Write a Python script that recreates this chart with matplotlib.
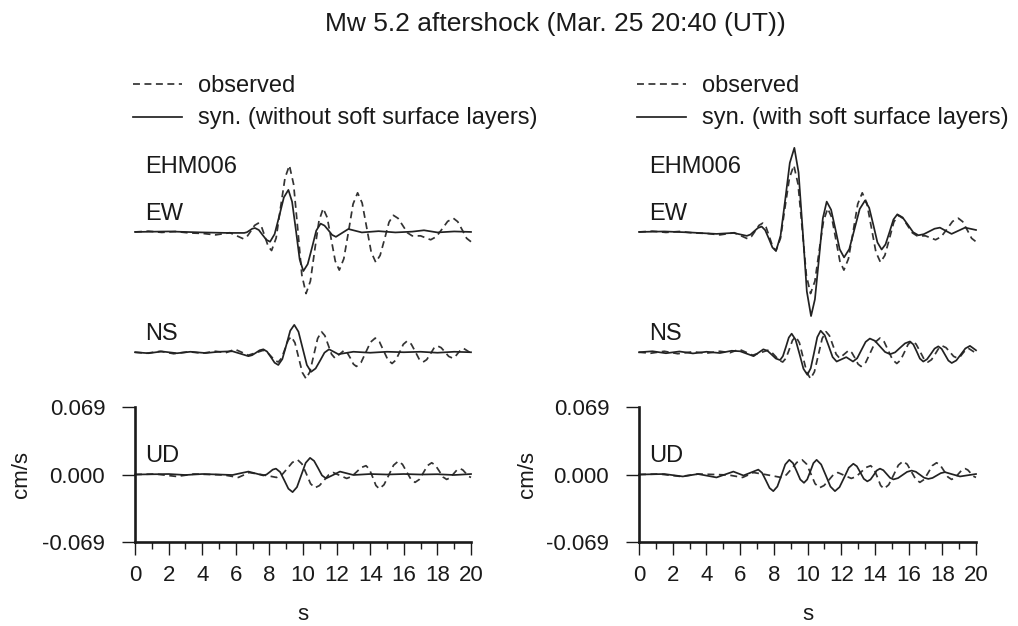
import matplotlib
matplotlib.use('Agg')
import matplotlib.pyplot as plt
from matplotlib.lines import Line2D

plt.rcParams['font.family'] = ['Liberation Sans', 'DejaVu Sans']

# ---- data: velocity traces (cm/s), station EHM006 ----
# observed records (same in both panels)
obs_ew_t = [0, 0.8, 1.6, 2.4, 3.2, 4.0, 4.8, 5.65, 6.45, 6.67, 6.90, 7.12, 7.34, 7.54, 7.74, 7.93,
            8.13, 8.40, 8.66, 8.93, 9.19, 9.44, 9.69, 9.93, 10.18, 10.44, 10.69, 10.95, 11.2, 11.44,
            11.68, 11.92, 12.16, 12.43, 12.71, 12.98, 13.25, 13.52, 13.79, 14.06, 14.33, 14.59, 14.86,
            15.12, 15.38, 15.66, 15.94, 16.22, 16.5, 17.0, 17.6, 17.94, 18.28, 18.61, 18.95, 19.21,
            19.48, 19.74, 20.0]
obs_ew_v = [0, 0.0008, -0.0005, 0.0005, -0.001, -0.0015, -0.003, -0.0008, -0.007, -0.0047, 0.001,
            0.0067, 0.009, 0.0049, -0.005, -0.0149, -0.019, -0.0063, 0.0245, 0.0553, 0.068, 0.0488,
            0.0025, -0.0439, -0.063, -0.0503, -0.0195, 0.0113, 0.024, 0.0148, -0.0075, -0.0298, -0.039,
            -0.0274, 0.0005, 0.0285, 0.040, 0.0296, 0.0045, -0.0206, -0.031, -0.024, -0.007, 0.010,
            0.017, 0.0139, 0.0065, -0.0009, -0.004, -0.004, -0.008, -0.0048, 0.003, 0.0108, 0.014,
            0.0105, 0.002, -0.0065, -0.010]

obs_ns_t = [0, 0.7, 1.5, 2.3, 3.2, 4.0, 4.8, 5.4, 5.95, 6.35, 6.75, 7.2, 7.64, 7.86, 8.09, 8.31, 8.53,
            8.72, 8.92, 9.11, 9.3, 9.52, 9.74, 9.96, 10.18, 10.41, 10.64, 10.87, 11.1, 11.3, 11.5, 11.7,
            11.9, 12.18, 12.45, 12.63, 12.82, 13.0, 13.18, 13.46, 13.74, 14.02, 14.3, 14.55, 14.8,
            15.05, 15.3, 15.52, 15.75, 15.97, 16.2, 16.44, 16.68, 16.91, 17.15, 17.36, 17.58, 17.79,
            18.0, 18.22, 18.45, 18.67, 18.9, 19.06, 19.22, 19.39, 19.55, 19.78, 20]
obs_ns_v = [0, -0.001, 0.001, -0.0015, 0.0005, -0.001, 0.001, -0.0005, 0.003, 0, -0.003, -0.0005,
            0.002, 0.0002, -0.004, -0.0082, -0.010, -0.0062, 0.003, 0.0122, 0.016, 0.0097, -0.0055,
            -0.0207, -0.027, -0.020, -0.003, 0.014, 0.021, 0.017, 0.0075, -0.002, -0.006, -0.002,
            0.002, -0.0004, -0.006, -0.0121, -0.0145, -0.0103, 0, 0.0103, 0.0145, 0.0107, 0.0015,
            -0.0077, -0.0115, -0.0081, 0, 0.0081, 0.0115, 0.0084, 0.0008, -0.0069, -0.010, -0.0076,
            -0.0018, 0.0041, 0.0065, 0.0047, 0.0003, -0.0042, -0.006, -0.0045, -0.001, 0.0025, 0.004,
            0.0015, -0.001]

obs_ud_t = [0, 1.2, 2.48, 3.5, 4.5, 5.3, 6.15, 6.8, 7.5, 7.97, 8.43, 8.74, 9.06, 9.37, 9.68, 9.94,
            10.2, 10.45, 10.71, 10.98, 11.26, 11.53, 11.8, 12.2, 12.6, 12.89, 13.18, 13.46, 13.75,
            13.95, 14.15, 14.34, 14.54, 14.82, 15.11, 15.39, 15.67, 15.92, 16.17, 16.42, 16.67, 16.92,
            17.17, 17.41, 17.66, 17.88, 18.11, 18.33, 18.55, 18.75, 18.95, 19.15, 19.35, 19.51, 19.68,
            19.84, 20]
obs_ud_v = [0, 0.0005, -0.002, 0.0005, 0, -0.0005, -0.003, 0.002, 0, -0.0015, -0.003, -0.0004, 0.006,
            0.0124, 0.015, 0.0108, 0.0007, -0.0094, -0.0136, -0.0113, -0.0058, -0.0003, 0.002, -0.001,
            -0.004, -0.0021, 0.0025, 0.0071, 0.009, 0.0055, -0.0028, -0.0112, -0.0146, -0.0105,
            -0.0005, 0.0095, 0.0136, 0.0104, 0.0028, -0.0048, -0.008, -0.0051, 0.002, 0.0091, 0.012,
            0.0095, 0.0035, -0.0025, -0.005, -0.0034, 0.0005, 0.0044, 0.006, 0.0047, 0.0015, -0.0017,
            -0.003]

# synthetics without soft surface layers (left)
syn_a_ew_t = [0, 2, 4, 5.5, 6.5, 6.66, 6.82, 6.98, 7.14, 7.37, 7.59, 7.82, 8.04, 8.31, 8.59, 8.86,
              9.13, 9.35, 9.58, 9.80, 10.02, 10.28, 10.54, 10.79, 11.05, 11.28, 11.51, 11.73, 11.96,
              12.33, 12.7, 13.5, 14.5, 15.5, 16.5, 17.2, 18, 19, 20]
syn_a_ew_v = [0, 0.0005, -0.0005, -0.001, -0.001, -0.0003, 0.0015, 0.0033, 0.004, 0.002, -0.003,
              -0.008, -0.010, -0.0022, 0.0165, 0.0353, 0.043, 0.0309, 0.0015, -0.0279, -0.040,
              -0.0329, -0.0158, 0.0014, 0.0085, 0.0065, 0.0018, -0.003, -0.005, -0.001, 0.003,
              -0.0005, 0.0008, -0.0005, 0.0003, 0.0017, -0.0005, 0.0005, 0]

syn_a_ns_t = [0, 0.8, 1.6, 2.5, 3.3, 4.2, 5.0, 5.8, 6.28, 6.75, 6.97, 7.2, 7.42, 7.64, 7.86, 8.09,
              8.31, 8.53, 8.77, 9.01, 9.24, 9.48, 9.73, 9.98, 10.23, 10.48, 10.75, 11.02, 11.28,
              11.55, 11.83, 12.1, 13, 14, 15, 16, 17, 18, 19, 20]
syn_a_ns_v = [0, -0.001, 0.0008, -0.001, 0.0005, -0.0008, 0.0005, 0.001, -0.0015, -0.004, -0.003,
              -0.0005, 0.002, 0.003, 0.0007, -0.005, -0.0107, -0.013, -0.007, 0.0075, 0.022, 0.028,
              0.021, 0.004, -0.013, -0.020, -0.0166, -0.0085, -0.0004, 0.003, 0.0005, -0.002, 0.0005,
              -0.0005, 0.0005, 0, 0.0005, -0.0005, 0.0005, 0]

syn_a_ud_t = [0, 2, 3, 4, 5, 5.8, 6.28, 6.75, 7.2, 7.64, 7.83, 8.02, 8.2, 8.39, 8.64, 8.89, 9.13,
              9.38, 9.64, 9.9, 10.16, 10.42, 10.66, 10.9, 11.13, 11.37, 11.79, 12.2, 13, 14, 15, 16,
              17, 18, 19, 20]
syn_a_ud_v = [0, 0.0005, -0.0005, 0.0005, 0, -0.0005, 0.0013, 0.003, 0.001, -0.001, 0, 0.0025, 0.005,
              0.006, 0.0025, -0.006, -0.0145, -0.018, -0.0129, -0.0005, 0.0119, 0.017, 0.0139, 0.0065,
              -0.0009, -0.004, -0.0005, 0.003, -0.0005, 0.0005, 0, 0.0005, 0, 0.0003, -0.0005, 0.0005]

# synthetics with soft surface layers (right)
syn_b_ew_t = [0, 1.5, 3, 4.6, 5.6, 6.4, 6.62, 6.84, 7.06, 7.28, 7.49, 7.71, 7.92, 8.13, 8.4, 8.68,
              8.95, 9.22, 9.47, 9.72, 9.96, 10.21, 10.44, 10.68, 10.91, 11.14, 11.4, 11.66, 11.91,
              12.17, 12.48, 12.79, 13.1, 13.41, 13.66, 13.91, 14.15, 14.4, 14.63, 14.87, 15.1, 15.33,
              15.64, 15.96, 16.27, 16.58, 16.9, 17.22, 17.54, 17.86, 18.2, 18.55, 18.95, 19.35,
              19.68, 20]
syn_b_ew_v = [0, 0.0005, -0.0005, -0.002, -0.001, -0.004, -0.0026, 0.0008, 0.0041, 0.0055, 0.0018,
              -0.007, -0.0159, -0.0195, -0.004, 0.0333, 0.0706, 0.086, 0.0608, 0, -0.0608, -0.086,
              -0.0689, -0.0275, 0.0139, 0.031, 0.0227, 0.0025, -0.0177, -0.026, -0.0175, 0.003,
              0.0235, 0.032, 0.0247, 0.007, -0.0107, -0.018, -0.0127, 0, 0.0127, 0.018, 0.0149,
              0.0073, -0.0003, -0.0034, -0.0023, 0.0005, 0.0033, 0.0044, 0.0012, -0.002, 0.0012,
              0.0044, 0.0032, 0.002]

syn_b_ns_t = [0, 0.8, 1.6, 2.4, 3.2, 4.0, 4.8, 5.5, 6.0, 6.4, 6.8, 7.09, 7.38, 7.63, 7.88, 8.12,
              8.37, 8.54, 8.72, 8.89, 9.06, 9.29, 9.53, 9.76, 9.99, 10.19, 10.39, 10.58, 10.78,
              11.02, 11.26, 11.49, 11.73, 12.3, 12.7, 12.95, 13.2, 13.45, 13.7, 14.0, 14.3, 14.6,
              14.9, 15.2, 15.49, 15.79, 16.08, 16.28, 16.48, 16.67, 16.87, 17.09, 17.32, 17.54,
              17.76, 17.96, 18.16, 18.36, 18.56, 18.83, 19.1, 19.37, 19.64, 19.82, 20]
syn_b_ns_v = [0, 0.001, -0.001, 0.0008, -0.0012, 0.0005, -0.0008, 0.0015, 0.001, -0.0015, -0.004,
              -0.0005, 0.003, 0.0014, -0.0025, -0.0064, -0.008, -0.004, 0.0055, 0.015, 0.019, 0.0129,
              -0.002, -0.0169, -0.023, -0.0164, -0.0005, 0.0154, 0.022, 0.0174, 0.0063, -0.0049,
              -0.0095, -0.005, -0.0095, -0.0061, 0.0023, 0.0106, 0.014, 0.0117, 0.006, 0.0003, -0.002,
              -0.0001, 0.0045, 0.0091, 0.011, 0.008, 0.0008, -0.0065, -0.0095, -0.0072, -0.0018,
              0.0037, 0.006, 0.0035, -0.0025, -0.0085, -0.011, -0.0084, -0.0023, 0.0039, 0.0065,
              0.0043, 0.002]

syn_b_ud_t = [0, 1.5, 2.6, 3.5, 4.6, 5.1, 5.6, 5.9, 6.2, 6.64, 7.08, 7.3, 7.53, 7.75, 7.97, 8.21,
              8.45, 8.68, 8.92, 9.14, 9.36, 9.57, 9.79, 9.98, 10.17, 10.35, 10.54, 10.81, 11.09,
              11.36, 11.63, 11.9, 12.18, 12.45, 12.72, 12.93, 13.14, 13.34, 13.55, 13.74, 13.93,
              14.11, 14.3, 14.5, 14.7, 14.9, 15.1, 15.37, 15.64, 15.91, 16.18, 16.43, 16.68, 16.92,
              17.17, 17.42, 17.67, 17.91, 18.16, 18.6, 19.05, 19.5, 20]
syn_b_ud_v = [0, 0.0005, -0.002, 0.0005, -0.003, 0, 0.003, 0.001, -0.001, 0.002, 0.005, 0.0018,
              -0.006, -0.0138, -0.017, -0.0123, -0.001, 0.0103, 0.015, 0.0116, 0.0033, -0.0051,
              -0.0085, -0.0051, 0.0033, 0.0116, 0.015, 0.0103, -0.001, -0.0123, -0.017, -0.0129,
              -0.003, 0.0069, 0.011, 0.0084, 0.002, -0.0044, -0.007, -0.0051, -0.0005, 0.0041, 0.006,
              0.0044, 0.0005, -0.0034, -0.005, -0.0037, -0.0005, 0.0027, 0.004, 0.0028, -0.0003,
              -0.0033, -0.0045, -0.0035, -0.001, 0.0014, 0.0024, 0.0002, -0.002, -0.0008, 0.0005]

components = ['EW', 'NS', 'UD']
amp_max = 0.069
y_ticks = [-0.069, 0.0, 0.069]
y_ticklabels = ['-0.069', '0.000', '0.069']
x_major = list(range(0, 21, 2))
x_minor = list(range(0, 21, 1))

observed = {'EW': (obs_ew_t, obs_ew_v), 'NS': (obs_ns_t, obs_ns_v), 'UD': (obs_ud_t, obs_ud_v)}
syn_without = {'EW': (syn_a_ew_t, syn_a_ew_v), 'NS': (syn_a_ns_t, syn_a_ns_v),
               'UD': (syn_a_ud_t, syn_a_ud_v)}
syn_with = {'EW': (syn_b_ew_t, syn_b_ew_v), 'NS': (syn_b_ns_t, syn_b_ns_v),
            'UD': (syn_b_ud_t, syn_b_ud_v)}

# ---- layout (pixels of a 1018x626 canvas) ----
W, H = 1018, 626
offsets = {'EW': 0.248, 'NS': 0.125, 'UD': 0.0}
label_y = {'EW': 220, 'NS': 340, 'UD': 462}
ink = '#1a1a1a'
trace_lw = 1.25
dash = (0, (4, 2.6))


def fx(x):
    return x / W


def fy(y):
    return 1 - y / H


fig = plt.figure(figsize=(W / 100, H / 100), dpi=100)
fig.patch.set_facecolor('white')


def draw_panel(x0, x1, syn, syn_label, ylab_x, tick_pad):
    # Axes spans 0..20 s horizontally; vertically -0.069 at the bottom edge
    ax = fig.add_axes([fx(x0), fy(542), (x1 - x0) / W, (542 - 140) / H])
    ax.set_xlim(0, 20)
    ax.set_ylim(-amp_max, 0.342)
    ax.patch.set_alpha(0)

    for comp in components:
        off = offsets[comp]
        t, v = observed[comp]
        ax.plot(t, [a + off for a in v], color='#333333', lw=trace_lw, ls=dash, clip_on=False)
        t, v = syn[comp]
        ax.plot(t, [a + off for a in v], color='#222222', lw=trace_lw, clip_on=False)

    for side in ['top', 'right']:
        ax.spines[side].set_visible(False)
    ax.spines['left'].set_bounds(-amp_max, amp_max)
    for side in ['left', 'bottom']:
        ax.spines[side].set_linewidth(1.9)
        ax.spines[side].set_color(ink)

    ax.set_xticks(x_major)
    ax.set_xticks(x_minor, minor=True)
    ax.set_yticks(y_ticks)
    ax.set_yticklabels(y_ticklabels)
    ax.tick_params(axis='x', which='major', length=9.5, width=1, pad=7, labelsize=16, colors=ink)
    ax.tick_params(axis='x', which='minor', length=5, width=1, colors=ink)
    ax.tick_params(axis='y', length=9.5, width=1, pad=tick_pad, labelsize=16, colors=ink)

    # text labels
    lx = x0 + 10
    fig.text(fx(lx), fy(173), 'EHM006', fontsize=17, color=ink, va='baseline')
    for comp in components:
        fig.text(fx(lx), fy(label_y[comp]), comp, fontsize=17, color=ink, va='baseline')
    fig.text(fx(ylab_x), fy(475), 'cm/s', fontsize=16, color=ink, rotation=90,
             ha='center', va='center')
    fig.text(fx((x0 + x1) / 2), fy(620), 's', fontsize=16, color=ink, ha='center', va='baseline')

    # legend
    lg0, lg1 = x0 - 2, x0 + 47
    fig.add_artist(Line2D([fx(lg0), fx(lg1)], [fy(84), fy(84)], transform=fig.transFigure,
                          color='#333333', lw=trace_lw, ls=dash))
    fig.add_artist(Line2D([fx(lg0), fx(lg1)], [fy(117), fy(117)], transform=fig.transFigure,
                          color='#222222', lw=trace_lw))
    fig.text(fx(lg1 + 16), fy(92), 'observed', fontsize=17, color=ink, va='baseline')
    fig.text(fx(lg1 + 16), fy(124), syn_label, fontsize=17, color=ink, va='baseline')
    return ax


draw_panel(135, 471, syn_without, 'syn. (without soft surface layers)', 22, 12)
draw_panel(639, 976, syn_with, 'syn. (with soft surface layers)', 527, 12)

fig.text(fx(555), fy(31), 'Mw 5.2 aftershock (Mar. 25 20:40 (UT))', fontsize=19, color=ink,
         ha='center', va='baseline')

fig.savefig('out.png', dpi=100)
